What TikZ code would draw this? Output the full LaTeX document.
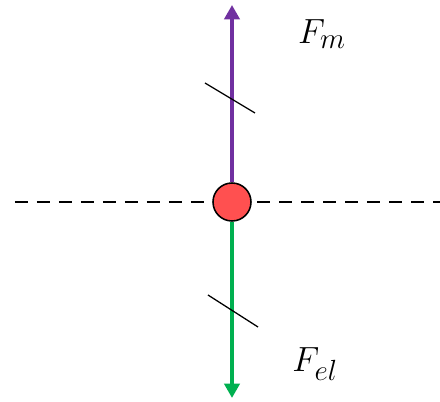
\documentclass[tikz,border=0pt]{standalone}
\usepackage{amsmath,amssymb}
\usetikzlibrary{arrows.meta}
\definecolor{forcem}{HTML}{7030A0}
\definecolor{forceel}{HTML}{00B050}
\definecolor{charge}{HTML}{FF5050}

\begin{document}
\begin{tikzpicture}[every node/.style={font=\fontsize{28}{32}\selectfont},
	force/.style={line width=2.8pt, -{Triangle[width=0.38cm,length=0.36cm]}},
	tick/.style={line width=0.9pt}]
	\useasboundingbox (-5.8,-5.0) rectangle (5.2,5.05);
	\draw[line width=2.1pt, dash pattern=on 0.33cm off 0.22cm] (-5.425,0) coordinate (left) -- (5.2,0) coordinate (right);
	\node[circle, draw, line width=1.1pt, fill=charge, minimum size=0.95cm, inner sep=0pt] (q) at (0,0) {};
	\coordinate (top) at (0,4.925);
	\coordinate (bot) at (0,-4.9);
	\draw[force, forcem] (q.north) -- (top);
	\draw[force, forceel] (q.south) -- (bot);
	\draw[tick] (-0.675,2.975) coordinate (t1) -- (0.575,2.225) coordinate (t2);
	\draw[tick] (-0.6,-2.325) coordinate (b1) -- (0.65,-3.125) coordinate (b2);
	\node (fm) at (2.25,4.2) {$F_m$};
	\node (fel) at (2.075,-4.05) {$F_{el}$};
\end{tikzpicture}
\end{document}
